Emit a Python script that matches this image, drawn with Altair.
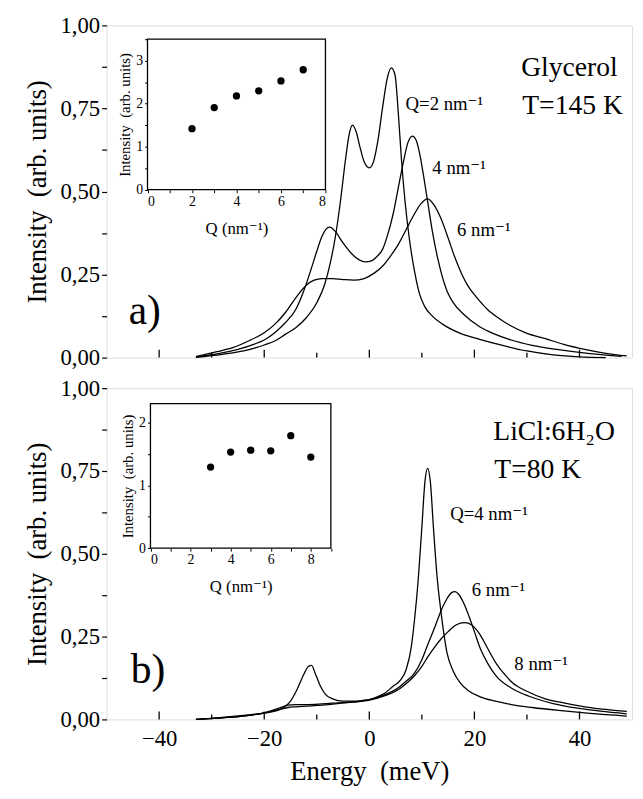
import altair as alt
import pandas as pd

FONT = "Liberation Serif, Times New Roman, DejaVu Serif, serif"

# ---------------- Panel a) Glycerol, T=145 K ----------------
a_q2_E = [-33, -28, -25, -22, -20, -18, -16, -14, -12, -10, -8.5, -7.5, -6.5, -5.5, -4.5, -3.8, -3.2,
          -2.5, -1.8, -1, 0, 0.8, 1.6, 2.5, 3.4, 4.2, 4.9, 5.5, 6.1, 6.8, 7.6, 8.6, 9.5, 10.5, 12,
          14, 17, 21, 25, 30, 35, 40, 45]
a_q2_I = [0.001, 0.01, 0.017, 0.028, 0.038, 0.05, 0.07, 0.09, 0.12, 0.165, 0.22, 0.28, 0.36, 0.47, 0.60,
          0.675, 0.700, 0.68, 0.635, 0.59, 0.571, 0.59, 0.65, 0.75, 0.84, 0.872, 0.85, 0.74, 0.60,
          0.47, 0.36, 0.26, 0.195, 0.155, 0.125, 0.10, 0.075, 0.055, 0.038, 0.02, 0.008, 0.002, 0.0]

a_q4_E = [-33, -28, -25, -22, -20, -18, -16, -14, -12.5, -11, -10, -9, -8, -7.5, -6.5, -5, -3.5, -2,
          -0.75, 0.5, 1.5, 2.5, 3.5, 4.5, 5.5, 6.5, 7.3, 8.2, 8.9, 9.5, 10.5, 11.1, 12, 13, 14.8, 16,
          18, 21, 24, 27, 31, 36, 42, 48]
a_q4_I = [0.002, 0.014, 0.025, 0.04, 0.053, 0.075, 0.105, 0.145, 0.2, 0.27, 0.32, 0.365, 0.39, 0.393,
          0.38, 0.345, 0.315, 0.295, 0.288, 0.292, 0.305, 0.325, 0.37, 0.43, 0.51, 0.59, 0.645, 0.667,
          0.655, 0.62, 0.53, 0.47, 0.38, 0.30, 0.20, 0.165, 0.13, 0.093, 0.07, 0.053, 0.037, 0.024,
          0.012, 0.004]

a_q6_E = [-33, -29, -26, -23, -20, -18, -16, -14, -12, -10.5, -9, -7, -5, -3, -1, 1, 2.5, 4, 5.5, 7,
          8.5, 9.8, 11.1, 12.3, 13.6, 15, 16.2, 17.5, 18.8, 20.5, 22.5, 24.5, 27, 30, 33.5, 37, 41,
          45, 49]
a_q6_I = [0.003, 0.018, 0.03, 0.05, 0.075, 0.1, 0.135, 0.18, 0.218, 0.233, 0.238, 0.238, 0.235, 0.233,
          0.238, 0.255, 0.275, 0.305, 0.34, 0.385, 0.43, 0.463, 0.478, 0.46, 0.42, 0.36, 0.305, 0.255,
          0.215, 0.18, 0.145, 0.12, 0.095, 0.073, 0.057, 0.04, 0.025, 0.013, 0.005]

a_inset_Q = [2, 3, 4, 5, 6, 7]
a_inset_I = [1.42, 1.91, 2.18, 2.30, 2.53, 2.79]

# ---------------- Panel b) LiCl:6H2O, T=80 K ----------------
b_q4_E = [-33, -28, -24, -20, -17, -15, -13.8, -12.5, -11.6, -11, -10.2, -9.3, -8.3, -7, -5, -3, -1,
          0, 1.5, 3, 4.5, 6, 7, 8, 8.6, 9.3, 10, 10.6, 11.1, 11.6, 12.2, 12.9, 13.6, 14.8, 16, 17.3,
          19, 21.1, 24, 27, 31, 36, 42, 49]
b_q4_I = [0.0, 0.006, 0.012, 0.019, 0.03, 0.055, 0.089, 0.135, 0.16, 0.163, 0.135, 0.10, 0.075, 0.062,
          0.055, 0.055, 0.058, 0.06, 0.068, 0.08, 0.10, 0.12, 0.15, 0.22, 0.30, 0.42, 0.58, 0.72,
          0.758, 0.72, 0.58, 0.43, 0.33, 0.20, 0.145, 0.11, 0.085, 0.068, 0.055, 0.045, 0.036,
          0.027, 0.018, 0.01]

b_q6_E = [-33, -28, -24, -20, -17, -15.5, -14, -12, -9, -6, -3, 0, 3, 5, 7, 8.6, 10, 11.1, 12.5, 13.6,
          14.8, 15.6, 16.3, 17, 18, 19, 20, 21.1, 22.5, 24.2, 27, 30.4, 35, 39.6, 44, 49]
b_q6_I = [0.0, 0.005, 0.01, 0.02, 0.035, 0.043, 0.045, 0.045, 0.047, 0.05, 0.053, 0.06, 0.075, 0.09,
          0.115, 0.14, 0.18, 0.225, 0.28, 0.326, 0.365, 0.382, 0.386, 0.378, 0.35, 0.31, 0.265,
          0.215, 0.17, 0.13, 0.095, 0.07, 0.048, 0.034, 0.025, 0.017]

b_q8_E = [-33, -28, -24, -20, -17, -15.5, -14, -12, -9, -6, -3, 0, 3, 5, 7, 8.6, 10, 11.1, 12.5, 13.6,
          15, 16.5, 18.1, 19.5, 21.1, 22.5, 24.2, 25.8, 27.3, 30, 33.5, 37, 41, 45, 49]
b_q8_I = [0.0, 0.005, 0.01, 0.02, 0.03, 0.036, 0.038, 0.04, 0.043, 0.048, 0.052, 0.058, 0.072, 0.085,
          0.108, 0.132, 0.16, 0.188, 0.22, 0.242, 0.265, 0.285, 0.292, 0.285, 0.255, 0.215, 0.168,
          0.135, 0.11, 0.085, 0.062, 0.05, 0.038, 0.03, 0.024]

b_inset_Q = [3, 4, 5, 6, 7, 8]
b_inset_I = [1.29, 1.53, 1.56, 1.55, 1.79, 1.45]

# ---------------- annotations ----------------
a_text = ["Q=2 nm\u207b\u00b9", "4 nm\u207b\u00b9", "6 nm\u207b\u00b9", "Glycerol", "T=145 K", "a)"]
a_text_E = [6.9, 12.0, 16.7, 28.9, 29.1, -45.8]
a_text_I = [0.763, 0.570, 0.383, 0.872, 0.757, 0.139]
a_text_fs = [19, 19, 19, 28, 28, 42]

b_text = ["Q=4 nm\u207b\u00b9", "6 nm\u207b\u00b9", "8 nm\u207b\u00b9", "LiCl:6H\u2082O", "T=80 K", "b)"]
b_text_E = [15.4, 19.5, 27.6, 23.6, 23.8, -45.4]
b_text_I = [0.619, 0.390, 0.167, 0.866, 0.753, 0.149]
b_text_fs = [19, 19, 19, 28, 28, 42]

x_tick_vals = [-40, -30, -20, -10, 0, 10, 20, 30, 40]
x_label_vals = [-40, -20, 0, 20, 40]
y_tick_vals = [0, 0.125, 0.25, 0.375, 0.5, 0.625, 0.75, 0.875, 1.0]

Y_TITLE = "Intensity\u00a0\u00a0(arb. units)"
X_TITLE = "Energy\u00a0\u00a0(meV)"

W = 533
H_A = 337
H_B = 336


def curves_df(series):
    rows = []
    for name, es, vs in series:
        for e, v in zip(es, vs):
            rows.append({"E": e, "I": v, "series": name})
    return pd.DataFrame(rows)


def panel(series, texts, tE, tI, tfs, inQ, inI, in_xdom, in_ydom, in_xrange, in_yrange,
          in_xvals, in_yvals, height, bottom_axis):
    xs = alt.Scale(domain=[-50, 50], nice=False, zero=False)
    ys = alt.Scale(domain=[0, 1], nice=False, zero=False)
    if bottom_axis:
        xaxis = alt.Axis(values=x_label_vals, ticks=False, domain=False, grid=False,
                         labelFont=FONT, labelFontSize=23, labelColor="black", labelPadding=8,
                         title=X_TITLE, titleFont=FONT, titleFontSize=27,
                         titleFontWeight="normal", titleColor="black", titlePadding=9)
    else:
        xaxis = None
    yaxis = alt.Axis(values=y_tick_vals,
                     labelExpr="(round(datum.value*1000) % 250 == 0) ? replace(format(datum.value, '.2f'), '.', ',') : ''",
                     tickSize=5, tickColor="black", tickWidth=1.2, domain=False, grid=False,
                     labelFont=FONT, labelFontSize=23, labelColor="black", labelPadding=2,
                     title=Y_TITLE, titleFont=FONT, titleFontSize=27,
                     titleFontWeight="normal", titleColor="black", titlePadding=9)

    cdf = curves_df(series)
    lines = alt.Chart(cdf).mark_line(color="black", strokeWidth=1.3, interpolate="monotone").encode(
        x=alt.X("E:Q", scale=xs, axis=xaxis),
        y=alt.Y("I:Q", scale=ys, axis=yaxis),
        detail="series:N",
    )

    tick_df = pd.DataFrame({
        "E": x_tick_vals,
        "y0": [0.0] * len(x_tick_vals),
        "y1": [0.024 if v % 20 == 0 else 0.015 for v in x_tick_vals],
    })
    ticks = alt.Chart(tick_df).mark_rule(color="black", strokeWidth=1.3).encode(
        x=alt.X("E:Q", scale=xs), y=alt.Y("y0:Q", scale=ys), y2="y1:Q")

    tdf = pd.DataFrame({"E": tE, "I": tI, "t": texts, "fs": tfs})
    labels = alt.Chart(tdf).mark_text(font=FONT, color="black", align="left", baseline="middle").encode(
        x=alt.X("E:Q", scale=xs), y=alt.Y("I:Q", scale=ys), text="t:N",
        size=alt.Size("fs:Q", scale=None, legend=None))

    main = alt.layer(lines, ticks, labels)

    ixs = alt.Scale(domain=in_xdom, range=in_xrange, nice=False, zero=False)
    iys = alt.Scale(domain=in_ydom, range=in_yrange, nice=False, zero=False)
    ixaxis = alt.Axis(orient="bottom", offset=in_yrange[0] - height, values=in_xvals,
                      labelExpr="datum.value % 2 == 0 ? format(datum.value, 'd') : ''",
                      tickSize=3, tickColor="black", domain=False, grid=False,
                      labelFont=FONT, labelFontSize=14, labelColor="black", labelPadding=2,
                      title="Q (nm\u207b\u00b9)", titleFont=FONT, titleFontSize=17,
                      titleFontWeight="normal", titleColor="black", titlePadding=12)
    iyaxis = alt.Axis(orient="left", offset=-in_xrange[0], values=in_yvals,
                      labelExpr="datum.value % 1 == 0 ? format(datum.value, 'd') : ''",
                      tickSize=3, tickColor="black", domain=False, grid=False,
                      labelFont=FONT, labelFontSize=14, labelColor="black", labelPadding=2,
                      title="Intensity\u00a0\u00a0(arb. units)", titleFont=FONT, titleFontSize=15,
                      titleFontWeight="normal", titleColor="black", titlePadding=3)

    frame_df = pd.DataFrame({"x0": [in_xdom[0]], "x1": [in_xdom[1]],
                             "y0": [in_ydom[0]], "y1": [in_ydom[1]]})
    frame = alt.Chart(frame_df).mark_rect(fill="white", stroke="black", strokeWidth=1.3).encode(
        x=alt.X("x0:Q", scale=ixs, axis=ixaxis), x2="x1:Q",
        y=alt.Y("y0:Q", scale=iys, axis=iyaxis), y2="y1:Q")

    pdf = pd.DataFrame({"Q": inQ, "V": inI})
    pts = alt.Chart(pdf).mark_circle(color="black", opacity=1, size=55).encode(
        x=alt.X("Q:Q", scale=ixs), y=alt.Y("V:Q", scale=iys))

    inset = alt.layer(frame, pts)

    return alt.layer(main, inset).resolve_scale(x="independent", y="independent").properties(
        width=W, height=height)


top = panel(
    [("q2", a_q2_E, a_q2_I), ("q4", a_q4_E, a_q4_I), ("q6", a_q6_E, a_q6_I)],
    a_text, a_text_E, a_text_I, a_text_fs,
    a_inset_Q, a_inset_I, [0, 8], [0, 3.5], [41.5, 222], [166.7, 14],
    [0, 1, 2, 3, 4, 5, 6, 7, 8], [0, 0.5, 1, 1.5, 2, 2.5, 3, 3.5], H_A, False)

bottom = panel(
    [("q4", b_q4_E, b_q4_I), ("q6", b_q6_E, b_q6_I), ("q8", b_q8_E, b_q8_I)],
    b_text, b_text_E, b_text_I, b_text_fs,
    b_inset_Q, b_inset_I, [0, 9], [0, 2.3], [44.5, 227.5], [162.3, 15.7],
    [0, 1, 2, 3, 4, 5, 6, 7, 8, 9], [0, 0.5, 1, 1.5, 2], H_B, True)

chart = alt.vconcat(top, bottom, spacing=31, bounds="flush").properties(
    padding={"left": 15, "top": 0, "right": 2, "bottom": 2}
).configure_view(stroke="black", strokeWidth=1.8).configure(background="white")

chart.save("out.html", embed_options={"renderer": "svg", "actions": False})
